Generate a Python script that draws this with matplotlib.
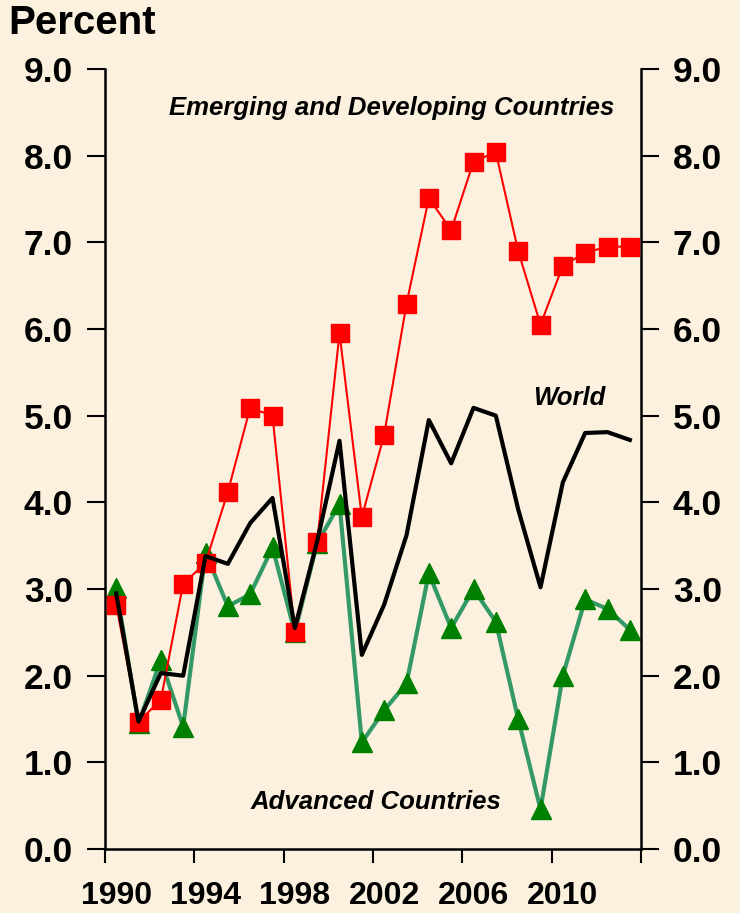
import matplotlib
matplotlib.use("Agg")
import matplotlib.pyplot as plt
import numpy as np

years = list(range(1990, 2014))
emerging = [2.82, 1.47, 1.72, 3.06, 3.30, 4.12, 5.09, 5.00, 2.50, 3.54, 5.95, 3.83,
            4.78, 6.29, 7.51, 7.14, 7.93, 8.04, 6.90, 6.05, 6.73, 6.88, 6.95, 6.95]
advanced = [3.01, 1.45, 2.18, 1.41, 3.42, 2.80, 2.94, 3.48, 2.50, 3.53, 3.98, 1.23,
            1.60, 1.91, 3.18, 2.55, 3.00, 2.62, 1.50, 0.46, 2.00, 2.88, 2.77, 2.53]
world = [2.95, 1.47, 2.03, 2.00, 3.38, 3.29, 3.76, 4.05, 2.55, 3.55, 4.71, 2.24,
         2.82, 3.62, 4.95, 4.45, 5.09, 5.00, 3.92, 3.02, 4.23, 4.80, 4.81, 4.72]
xtick_labels = ["1990", "1994", "1998", "2002", "2006", "2010"]
yticks = [0.0, 1.0, 2.0, 3.0, 4.0, 5.0, 6.0, 7.0, 8.0, 9.0]

plt.rcParams['font.family'] = ['Liberation Sans', 'DejaVu Sans']
bg = '#FCF1DE'
fig = plt.figure(figsize=(7.40, 9.13), dpi=100, facecolor=bg)
ax = fig.add_axes([105/740, 1-849/913, 536/740, 780/913])
ax.set_facecolor(bg)

n = len(years)
x = np.arange(n) + 0.5

ax.plot(x, advanced, color='#339966', lw=3.0, marker='^', markersize=15,
        markerfacecolor='#008000', markeredgecolor='#008000', zorder=2, clip_on=False)
ax.plot(x, emerging, color='#FF0000', lw=1.5, marker='s', markersize=13,
        markerfacecolor='#FF0000', markeredgecolor='#FF0000', zorder=3, clip_on=False)
ax.plot(x, world, color='black', lw=3.0, zorder=4, clip_on=False)

ax.set_xlim(0, n)
ax.set_ylim(0, 9)
ax.set_xticks(np.arange(0, n + 1, 4))
ax.set_xticklabels([])
ax.set_xticks(np.arange(0, n - 1, 4) + 0.5, minor=True)
ax.set_xticklabels(xtick_labels, minor=True)
ax.tick_params(axis='x', which='minor', length=0, pad=23, labelsize=23)
ax.tick_params(axis='x', which='major', direction='out', length=10, width=1.5)
for lab in ax.get_xticklabels(minor=True):
    lab.set_fontweight('bold')

ax.set_yticks(yticks)
ax.set_yticklabels([f"{v:.1f}" for v in yticks])
ax.tick_params(axis='y', direction='out', length=13, width=1.5, labelsize=25.5, pad=10,
               left=True, right=True, labelleft=True, labelright=True)
for lab in ax.get_yticklabels():
    lab.set_fontweight('bold')

for s in ax.spines.values():
    s.set_linewidth(1.8)
ax.spines['top'].set_visible(False)

fig.text(8/740, 1-23/913, "Percent", fontsize=29, fontweight='bold', va='center', ha='left')

ax.text(0.535, 0.95, "Emerging and Developing Countries", transform=ax.transAxes,
        fontsize=18.5, fontweight='bold', style='italic', ha='center', va='center')
ax.text(0.867, 0.578, "World", transform=ax.transAxes,
        fontsize=18.5, fontweight='bold', style='italic', ha='center', va='center')
ax.text(0.505, 0.06, "Advanced Countries", transform=ax.transAxes,
        fontsize=18.5, fontweight='bold', style='italic', ha='center', va='center')

fig.savefig("out.png", dpi=100, facecolor=bg)
